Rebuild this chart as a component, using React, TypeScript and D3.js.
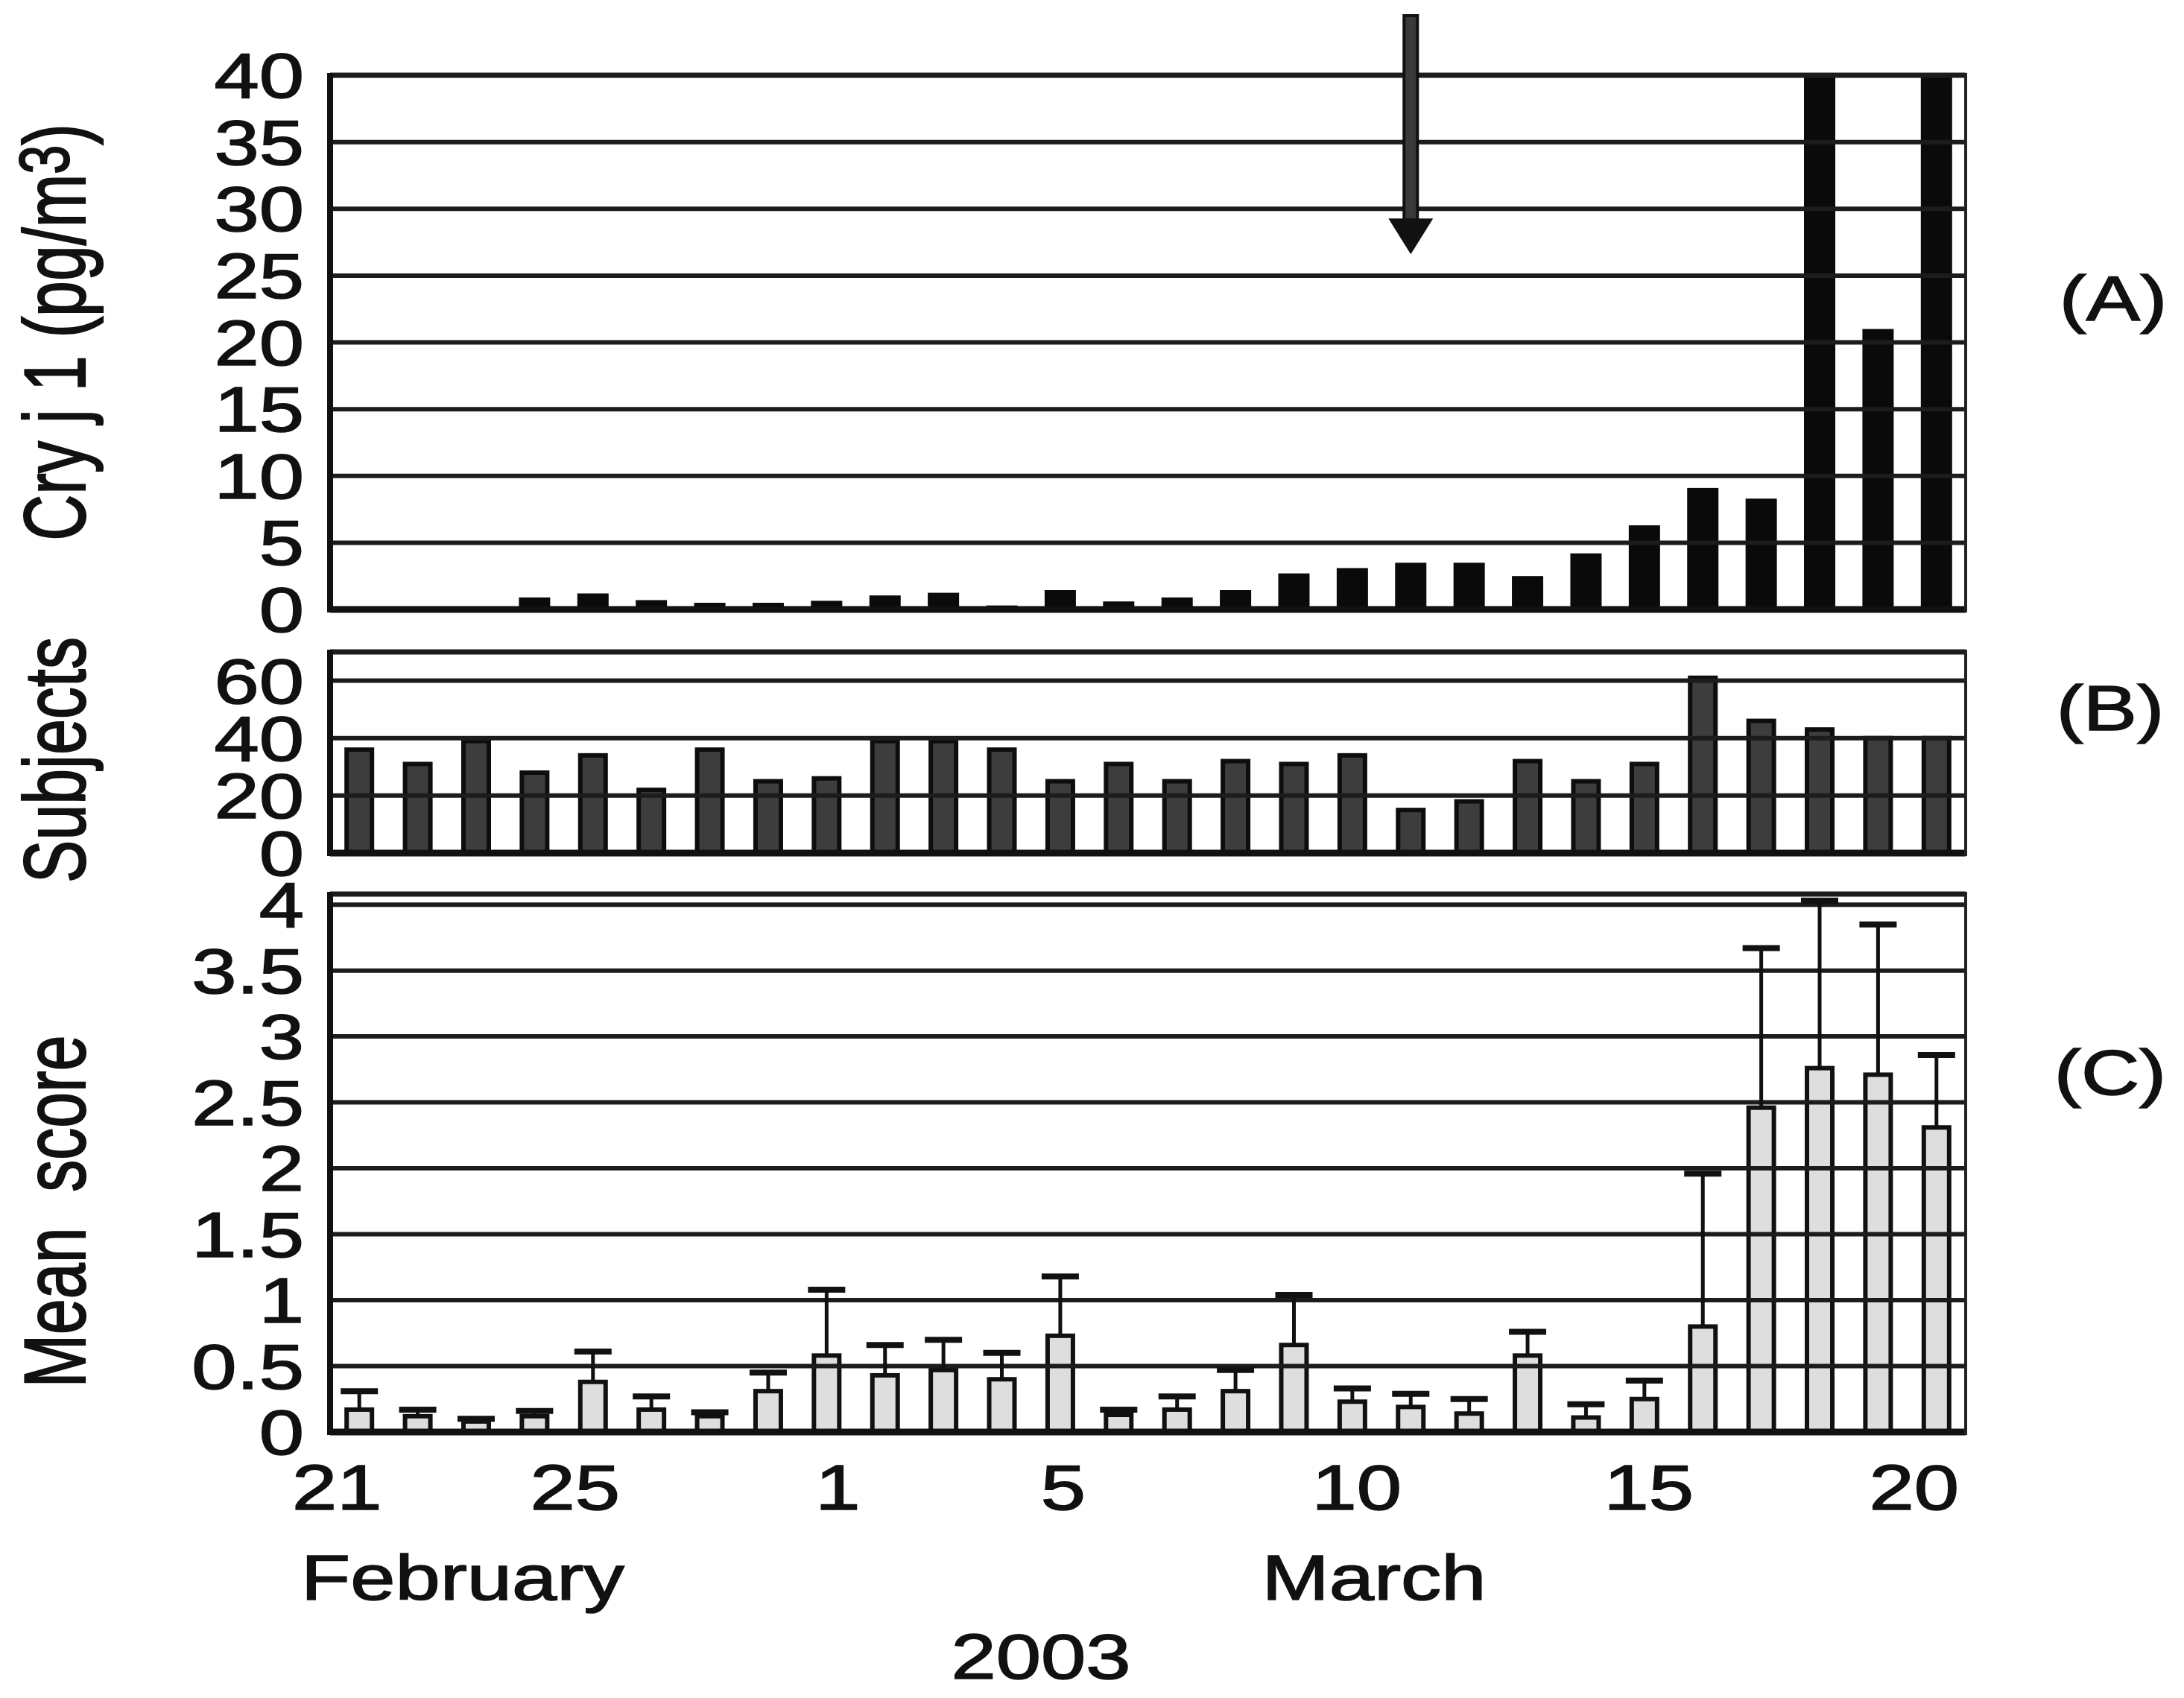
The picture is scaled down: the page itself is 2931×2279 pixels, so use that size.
import * as d3 from 'd3'

const W = 2931, H = 2279
const PLOT_L = 443, PLOT_R = 2638

// one band per day, 21 Feb – 20 Mar 2003
const days = [
  'Feb 21', 'Feb 22', 'Feb 23', 'Feb 24', 'Feb 25', 'Feb 26', 'Feb 27', 'Feb 28',
  'Mar 1', 'Mar 2', 'Mar 3', 'Mar 4', 'Mar 5', 'Mar 6', 'Mar 7', 'Mar 8', 'Mar 9', 'Mar 10',
  'Mar 11', 'Mar 12', 'Mar 13', 'Mar 14', 'Mar 15', 'Mar 16', 'Mar 17', 'Mar 18', 'Mar 19', 'Mar 20',
]
const tickDays = ['Feb 21', 'Feb 25', 'Mar 1', 'Mar 5', 'Mar 10', 'Mar 15', 'Mar 20']
const tickLabels = ['21', '25', '1', '5', '10', '15', '20']
const arrowDay = 'Mar 11'

// (A) airborne Cry j 1, pg/m3 (two days run off the top of the scale)
const cryJ1 = [0, 0, 0.2, 0.9, 1.2, 0.7, 0.5, 0.5, 0.65, 1.05, 1.25, 0.3, 1.45, 0.6, 0.9, 1.45,
  2.7, 3.1, 3.5, 3.5, 2.5, 4.2, 6.3, 9.1, 8.3, 40, 21, 40]
// (B) number of subjects
const subjects = [36, 31, 39, 28, 34, 22, 36, 25, 26, 39, 39, 36, 25, 31, 25, 32,
  31, 34, 15, 18, 32, 25, 31, 61, 46, 43, 40, 40]
// (C) mean symptom score and SD
const score = [0.17, 0.12, 0.08, 0.12, 0.38, 0.17, 0.12, 0.31, 0.58, 0.43, 0.47, 0.40, 0.73, 0.13,
  0.17, 0.31, 0.66, 0.23, 0.19, 0.14, 0.58, 0.11, 0.25, 0.80, 2.46, 2.76, 2.71, 2.31]
const scoreSD = [0.14, 0.05, 0.02, 0.04, 0.23, 0.10, 0.03, 0.14, 0.50, 0.23, 0.23, 0.20, 0.45, 0.04,
  0.10, 0.16, 0.38, 0.10, 0.10, 0.11, 0.18, 0.10, 0.14, 1.16, 1.21, 1.27, 1.14, 0.55]

const cryTicks = [0, 5, 10, 15, 20, 25, 30, 35, 40]
const subjTicks = [0, 20, 40, 60]
const scoreTicks = [0, 0.5, 1, 1.5, 2, 2.5, 3, 3.5, 4]

// the printed day numbers sit a little off their bars
const tickNudge = [-30, -24, 15, 4, 6, 6, -30]

const FONT = '"Liberation Sans", Arial, Helvetica, sans-serif'
const FS = 86
const SX = 1.26

const x = d3.scaleBand<string>().domain(days).range([PLOT_L, PLOT_R])
const xc = (d: string) => (x(d) ?? 0) + x.bandwidth() / 2

const yA = d3.scaleLinear().domain([0, 40]).range([818, 101]).clamp(true)
const yB = d3.scaleLinear().domain([0, 70]).range([1145, 875])
const yC = d3.scaleLinear().domain([0, 4.08]).range([1922, 1200])

function Txt({ x, y, children, anchor = 'middle', sx = SX, size = FS }: any) {
  return (
    <text transform={`translate(${x},${y}) scale(${sx},1)`} textAnchor={anchor}
      fontFamily={FONT} fontSize={size} fill="#111" stroke="#111" strokeWidth={1.6}>
      {children}
    </text>
  )
}

function VTitle({ x, y, children }: any) {
  return (
    <text transform={`translate(${x},${y}) scale(1.36,1) rotate(-90)`} textAnchor="middle"
      fontFamily={FONT} fontSize={FS} fill="#111" stroke="#111" strokeWidth={1.6}
      style={{ whiteSpace: 'pre' }}>
      {children}
    </text>
  )
}

function Frame({ y, ticks, fmt }: { y: d3.ScaleLinear<number, number>, ticks: number[], fmt: (t: number) => string }) {
  const [y0, y1] = y.range()
  return (
    <g>
      {ticks.filter(t => y(t) > y1 + 4 && y(t) < y0 - 4).map(t => (
        <line key={t} x1={PLOT_L} x2={PLOT_R} y1={y(t)} y2={y(t)} stroke="#1c1c1c" strokeWidth={6} />
      ))}
      <line x1={PLOT_L} x2={PLOT_R} y1={y1} y2={y1} stroke="#1c1c1c" strokeWidth={7} />
      <line x1={PLOT_L} x2={PLOT_R} y1={y0} y2={y0} stroke="#111" strokeWidth={9} />
      <line x1={PLOT_L} x2={PLOT_L} y1={y1 - 3} y2={y0 + 4} stroke="#111" strokeWidth={8} />
      <line x1={PLOT_R} x2={PLOT_R} y1={y1 - 3} y2={y0 + 4} stroke="#222" strokeWidth={4} />
      {ticks.map(t => (
        <Txt key={t} x={408} y={y(t) + 30} anchor="end">{fmt(t)}</Txt>
      ))}
    </g>
  )
}

export default function App() {
  const ax = xc(arrowDay)
  const tipY = yA(26.6)
  return (
    <svg width={W} height={H} viewBox={`0 0 ${W} ${H}`}
      style={{ position: 'absolute', left: 0, top: 0, background: '#fff' }}>
      <style>{'body{margin:0;overflow:hidden}'}</style>
      <rect width={W} height={H} fill="#fff" />

      {/* (A) Cry j 1 */}
      {cryJ1.map((v, i) => (
        <rect key={i} x={xc(days[i]) - 21} width={42} y={yA(v)} height={yA(0) - yA(v)} fill="#0a0a0a" />
      ))}
      <Frame y={yA} ticks={cryTicks} fmt={t => String(t)} />
      <rect x={ax - 9} width={18} y={21} height={tipY - 46 - 21} fill="#3a3a3a" stroke="#111" strokeWidth={4} />
      <path d={`M${ax - 30},${tipY - 48} L${ax + 30},${tipY - 48} L${ax},${tipY} Z`} fill="#111" />

      {/* (B) subjects */}
      {subjects.map((v, i) => (
        <rect key={i} x={xc(days[i]) - 17} width={34} y={yB(v)} height={yB(0) - yB(v)}
          fill="#3d3d3d" stroke="#0d0d0d" strokeWidth={6} />
      ))}
      <Frame y={yB} ticks={subjTicks} fmt={t => String(t)} />

      {/* (C) mean score */}
      {score.map((v, i) => (
        <rect key={i} x={xc(days[i]) - 17} width={34} y={yC(v)} height={yC(0) - yC(v)}
          fill="#dedede" stroke="#111" strokeWidth={6} />
      ))}
      <Frame y={yC} ticks={scoreTicks} fmt={t => String(t)} />
      {score.map((v, i) => {
        const cx = xc(days[i])
        return (
          <g key={i}>
            <line x1={cx} x2={cx} y1={yC(v)} y2={yC(v + scoreSD[i])} stroke="#111" strokeWidth={5} />
            <line x1={cx - 25} x2={cx + 25} y1={yC(v + scoreSD[i])} y2={yC(v + scoreSD[i])} stroke="#111" strokeWidth={8} />
          </g>
        )
      })}

      {/* x axis */}
      {tickDays.map((d, i) => (
        <Txt key={d} x={xc(d) + tickNudge[i]} y={2026}>{tickLabels[i]}</Txt>
      ))}
      <Txt x={404} y={2147} anchor="start">February</Txt>
      <Txt x={1844} y={2147}>March</Txt>
      <Txt x={1397} y={2253}>2003</Txt>

      {/* y titles */}
      <VTitle x={114} y={446}>Cry j 1 (pg/m<tspan fontSize={70} dy={-16}>3</tspan><tspan dy={16}>)</tspan></VTitle>
      <VTitle x={114} y={1020}>Subjects</VTitle>
      <VTitle x={114} y={1626}>{'Mean  score'}</VTitle>

      {/* panel letters */}
      <Txt x={2836} y={430}>(A)</Txt>
      <Txt x={2832} y={980}>(B)</Txt>
      <Txt x={2832} y={1469}>(C)</Txt>
    </svg>
  )
}
